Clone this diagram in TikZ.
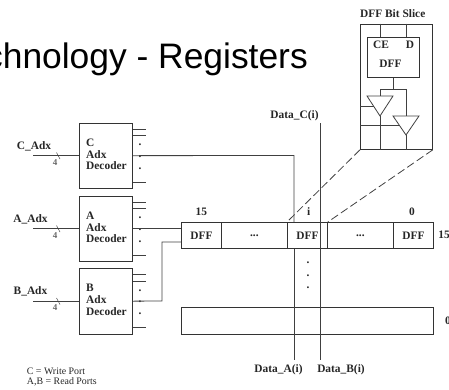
\documentclass[tikz,border=0pt]{standalone}
\usepackage{xcolor}
\usepackage{fontspec}
\setmainfont{Liberation Serif}
\newfontfamily\titlefont{Liberation Sans}
\usetikzlibrary{positioning}
\tikzset{
  wire/.style={draw=black!75, line width=0.8pt},
  box/.style={draw=black!80, line width=0.8pt, inner sep=0pt},
  lbl/.style={inner sep=0pt, text=black!85, font=\bfseries\fontsize{11.4}{11.7}\selectfont},
  small/.style={inner sep=0pt, text=black!85, font=\fontsize{9.9}{10}\selectfont, align=left, anchor=west},
  decoder/.style={box, minimum width=53pt, minimum height=65.5pt, anchor=north west},
  cell/.style={box, minimum height=26pt, anchor=north west, text=black!85, font=\bfseries\fontsize{11.4}{11.7}\selectfont},
  buffer/.style={wire, line join=miter}
}
\begin{document}
\begin{tikzpicture}[x=1pt, y=-1pt]
        \useasboundingbox (0,0) rectangle (449,389);
        \clip (0,0) rectangle (449,389);

        \node[anchor=base east, inner sep=0pt, font=\titlefont\fontsize{35.4}{36}\selectfont] (title) at (308,68) {chnology - Registers};

        % address decoders
        \node[decoder] (decC) at (79,122.5) {};
        \node[decoder] (decA) at (79,195.5) {};
        \node[decoder] (decB) at (79,268) {};
        \foreach \name/\ypos in {C/122.5, A/195.5, B/268} {
            \node[lbl, anchor=west, align=left] (txt\name) at (86,\ypos+32) {\name\\Adx\\Decoder};
            \coordinate (in\name) at (33,\ypos+33);
            \coordinate (s1\name) at (146,\ypos+6.5);
            \coordinate (s2\name) at (146,\ypos+13);
            \coordinate (s3\name) at (146,\ypos+59.5);
            \coordinate (t1\name) at (56.5,\ypos+30);
            \coordinate (t2\name) at (60,\ypos+36.5);
            \draw[wire] (in\name) -- (in\name -| dec\name.west);
            \draw[wire, line width=0.5pt] (t1\name) -- (t2\name);
            \draw[wire] (s1\name -| dec\name.east) -- (s1\name);
            \draw[wire] (s2\name -| dec\name.east) -- (s2\name);
            \draw[wire] (s3\name -| dec\name.east) -- (s3\name);
            \node[lbl, text=black!60, font=\bfseries\fontsize{9}{9}\selectfont] (w\name) at (55,\ypos+40) {4};
            \node[lbl] (p\name) at (140,\ypos+22.5) {.};
            \node[lbl] (q\name) at (140,\ypos+34) {.};
            \node[lbl] (r\name) at (140,\ypos+46) {.};
        }
        \node[lbl] (adxC) at (34,146) {C\_Adx};
        \node[lbl] (adxA) at (30.5,219) {A\_Adx};
        \node[lbl] (adxB) at (30.5,291.7) {B\_Adx};

        % register row
        \node[cell, minimum width=40pt] (dffL) at (181,222) {DFF};
        \node[cell, minimum width=66pt] (dotsL) at (221,222) {\raisebox{-2pt}{...}};
        \node[cell, minimum width=40pt] (dffI) at (287,222) {DFF};
        \node[cell, minimum width=66pt] (dotsR) at (327,222) {\raisebox{-2pt}{...}};
        \node[cell, minimum width=40pt] (dffR) at (393,222) {DFF};
        \node[cell, minimum width=252pt, minimum height=27pt] (rowB) at (181,307) {};

        \node[lbl] (n15) [above=6pt of dffL] {15};
        \node[lbl] (ni) at (308.7,212) {i};
        \node[lbl] (n0) at (412,212) {0};
        \node[lbl] (r15) at (444,235) {15};
        \node[lbl] (r0) at (448,320.5) {0};
        \node[lbl] (v1) at (308,263) {.};
        \node[lbl] (v2) at (308,276) {.};
        \node[lbl] (v3) at (308,288) {.};

        % data lines
        \coordinate (dataCtop) at (320,123);
        \coordinate (dataBend) at (320,360);
        \coordinate (dataAend) at (294,360);
        \draw[wire] (dataCtop) -- (dataBend);
        \draw[wire] (dffI.south -| dataAend) -- (dataAend);
        \node[lbl] (dataC) at (294.5,116) {Data\_C(i)};
        \node[lbl] (dataA) at (278.5,370) {Data\_A(i)};
        \node[lbl] (dataB) at (341,370) {Data\_B(i)};

        % decoder outputs
        \coordinate (cBend) at (294,155.5);
        \coordinate (bBend) at (162,301);
        \coordinate (bIn) at (181,242);
        \draw[wire] (decC.east) -- (cBend) -- (cBend |- dffI.north);
        \draw[wire] (decA.east) -- (decA.east -| dffL.west);
        \draw[wire] (decB.east) -- (bBend) -- (bBend |- bIn) -- (bIn);

        % bit slice
        \node[box, minimum width=72pt, minimum height=125.5pt, anchor=north west] (slice) at (360,23.5) {};
        \node[box, minimum width=52pt, minimum height=40pt, anchor=north west] (dffS) at (367,37) {};
        \node[lbl] (sliceT) at (392.7,14) {DFF Bit Slice};
        \node[lbl] (ce) at (381,45) {CE};
        \node[lbl] (d) at (410,45) {D};
        \node[lbl] (dffT) at (390.5,64) {DFF};

        \coordinate (lft) at (380,96);
        \coordinate (rgt) at (406,116);
        \coordinate (tee) at (393,89);
        \draw[wire] (slice.north -| lft) -- (dffS.north -| lft);
        \draw[wire] (slice.north -| rgt) -- (dffS.north -| rgt);
        \draw[wire] (dffS.south -| tee) -- (tee);
        \draw[wire] (lft) -- (lft |- tee) -- (rgt |- tee) -- (rgt);
        \draw[buffer] (367,96) -- (393,96) -- (380,116) -- cycle;
        \draw[buffer] (393,116) -- (419,116) -- (406,135) -- cycle;
        \draw[wire] (380,116) -- (slice.south -| lft);
        \draw[wire] (406,135) -- (slice.south -| rgt);
        \draw[wire] (slice.west |- 0,106) -- (373.5,106);
        \draw[wire] (slice.west |- 0,125.5) -- (399.5,125.5);

        \draw[wire, dash pattern=on 8pt off 3.5pt] (slice.south west) -- (dffI.north west);
        \draw[wire, dash pattern=on 8pt off 3.5pt] (slice.south east) -- (dffI.north east);

        \node[small] (note) at (26.7,377) {C = Write Port\\A,B = Read Ports};
\end{tikzpicture}
\end{document}
